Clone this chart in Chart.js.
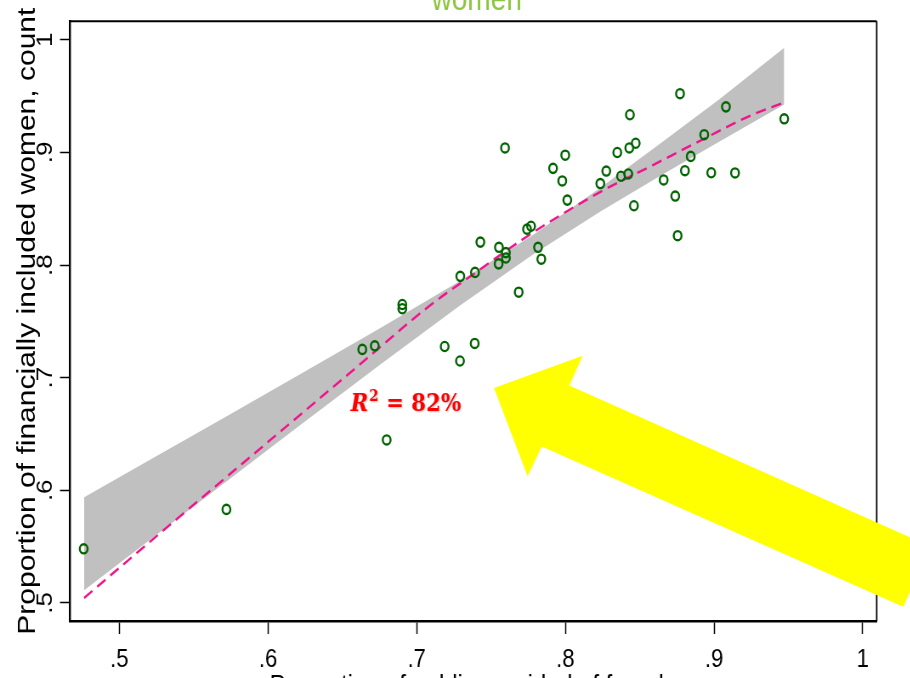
<!DOCTYPE html>
<html>
<head>
<meta charset="utf-8">
<script src="https://cdn.jsdelivr.net/npm/chart.js@4.4.1/dist/chart.umd.min.js"></script>
<style>
  html, body { margin: 0; padding: 0; background: #ffffff; overflow: hidden; }
  #wrap { position: absolute; left: 0; top: 0; width: 1071px; height: 678px;
          transform: scaleX(0.85); transform-origin: 0 0; }
  #c { display: block; width: 1071px; height: 678px; }
</style>
</head>
<body>
<div id="wrap"><canvas id="c" width="1071" height="678"></canvas></div>
<script>
// ---------------- DATA ----------------
const chartTitle = 'women';
const xAxisTitle = 'Proportion of public provided of female';
const yAxisTitle = 'Proportion of financially included women, count';
const r2Text = { symbol: 'R', power: '2', rest: ' = 82%' };

const xTickValues = [0.5, 0.6, 0.7, 0.8, 0.9, 1.0];
const xTickLabels = ['.5', '.6', '.7', '.8', '.9', '1'];
const yTickValues = [0.5, 0.6, 0.7, 0.8, 0.9, 1.0];
const yTickLabels = ['.5', '.6', '.7', '.8', '.9', '1'];

// observed points (x, y)
const obsX = [0.476, 0.572, 0.6634, 0.6718, 0.6903, 0.6903, 0.6798, 0.7188, 0.7291, 0.739,
              0.7293, 0.7392, 0.7428, 0.7553, 0.760, 0.760, 0.7551, 0.7742, 0.7769, 0.7816,
              0.7838, 0.7686, 0.7594, 0.7999, 0.7917, 0.7979, 0.8013, 0.8275, 0.8235, 0.8349,
              0.843, 0.8473, 0.8434, 0.8374, 0.8423, 0.8461, 0.8661, 0.8739, 0.8755, 0.8771,
              0.8804, 0.8843, 0.8934, 0.8981, 0.908, 0.9141, 0.9472];
const obsY = [0.548, 0.583, 0.7251, 0.7283, 0.765, 0.7612, 0.6447, 0.7277, 0.7148, 0.7304,
              0.790, 0.7935, 0.8204, 0.8158, 0.8111, 0.8063, 0.8011, 0.8319, 0.8345, 0.8158,
              0.8052, 0.7759, 0.904, 0.8976, 0.8859, 0.8747, 0.8577, 0.8835, 0.8724, 0.900,
              0.904, 0.9082, 0.9335, 0.8789, 0.8809, 0.8527, 0.8756, 0.8613, 0.8261, 0.9522,
              0.8838, 0.8965, 0.9158, 0.882, 0.9405, 0.8818, 0.9299];

// smoothed fit (dashed curve)
const fitX = [0.4763, 0.5206, 0.5718, 0.6215, 0.6619, 0.7089, 0.7392, 0.7762, 0.8233, 0.8589, 0.8925, 0.9261, 0.9465];
const fitY = [0.5044, 0.5543, 0.6115, 0.6669, 0.7119, 0.7641, 0.7929, 0.8272, 0.8648, 0.8888, 0.9117, 0.9337, 0.944];

// confidence band
const ciX     = [0.4763, 0.5206, 0.5722, 0.6215, 0.6753, 0.7291, 0.7782, 0.8233, 0.8636, 0.904, 0.9472];
const ciUpper = [0.5939, 0.6272, 0.6658, 0.7031, 0.7439, 0.7858, 0.8268, 0.8684, 0.9077, 0.9477, 0.993];
const ciLower = [0.5112, 0.5561, 0.6080, 0.6577, 0.7114, 0.7642, 0.8095, 0.8473, 0.8790, 0.9099, 0.9426];

// axis ranges
const xRange = [0.4668, 1.0094];
const yRange = [0.4839, 1.0165];

// annotations (data coordinates)
const r2Anchor = [0.6556, 0.6705];
const arrowShape = [[0.752, 0.6908], [0.8116, 0.7195], [0.8026, 0.6931], [1.0459, 0.5499],
                    [1.0272, 0.4965], [0.7841, 0.6388], [0.7746, 0.6124]];

// ---------------- CHART ----------------
const SANS = '"Liberation Sans", Arial, sans-serif';
const SERIF = '"DejaVu Serif", "Liberation Serif", serif';
const toPts = (xs, ys) => xs.map((v, i) => ({ x: v, y: ys[i] }));
const labelFor = (vals, labels) => (v) => {
  const i = vals.findIndex(t => Math.abs(t - v) < 1e-6);
  return i >= 0 ? labels[i] : '';
};

const overlay = {
  id: 'overlay',
  afterDraw(chart) {
    const { ctx, chartArea: a, scales: { x, y } } = chart;
    ctx.save();
    // frame (top and right)
    ctx.strokeStyle = '#000';
    ctx.lineWidth = 2;
    ctx.beginPath();
    ctx.moveTo(a.left, a.top);
    ctx.lineTo(a.right, a.top);
    ctx.stroke();
    ctx.lineWidth = 1.8;
    ctx.beginPath();
    ctx.moveTo(a.right, a.top);
    ctx.lineTo(a.right, a.bottom);
    ctx.stroke();

    // title (cut off at top)
    ctx.fillStyle = '#8DC63F';
    ctx.font = '33px ' + SANS;
    ctx.textAlign = 'center';
    ctx.textBaseline = 'alphabetic';
    ctx.fillText(chartTitle, (a.left + a.right) / 2 + 4, 10);

    // R^2 label
    let px = x.getPixelForValue(r2Anchor[0]);
    const py = y.getPixelForValue(r2Anchor[1]);
    ctx.textAlign = 'left';
    ctx.fillStyle = '#FF0000';
    ctx.shadowColor = 'rgba(0,0,0,0.25)';
    ctx.shadowBlur = 2;
    ctx.shadowOffsetX = 1;
    ctx.shadowOffsetY = 1;
    ctx.font = 'italic bold 25px ' + SERIF;
    ctx.fillText(r2Text.symbol, px, py);
    px += ctx.measureText(r2Text.symbol).width + 1;
    ctx.font = 'bold 16px ' + SERIF;
    ctx.fillText(r2Text.power, px, py - 10);
    px += ctx.measureText(r2Text.power).width;
    ctx.font = 'bold 25px ' + SERIF;
    ctx.fillText(r2Text.rest, px, py);
    ctx.shadowColor = 'transparent';

    // arrow
    ctx.fillStyle = '#FFFF00';
    ctx.beginPath();
    arrowShape.forEach((p, i) => {
      const X = x.getPixelForValue(p[0]), Y = y.getPixelForValue(p[1]);
      if (i === 0) ctx.moveTo(X, Y); else ctx.lineTo(X, Y);
    });
    ctx.closePath();
    ctx.fill();
    ctx.restore();
  }
};

new Chart(document.getElementById('c'), {
  type: 'scatter',
  data: {
    datasets: [
      {
        label: 'observed',
        data: toPts(obsX, obsY),
        order: 0,
        pointStyle: 'circle',
        pointRadius: 4.6,
        borderWidth: 2.4,
        borderColor: '#006400',
        backgroundColor: 'rgba(0,0,0,0)',
        showLine: false
      },
      {
        label: 'fit',
        data: toPts(fitX, fitY),
        order: 1,
        showLine: true,
        borderColor: '#F0148C',
        borderWidth: 2.4,
        borderDash: [12, 7],
        pointRadius: 0,
        cubicInterpolationMode: 'monotone',
        fill: false
      },
      {
        label: 'ci upper',
        data: toPts(ciX, ciUpper),
        order: 2,
        showLine: true,
        borderWidth: 0,
        borderColor: 'rgba(0,0,0,0)',
        backgroundColor: '#C0C0C0',
        pointRadius: 0,
        tension: 0,
        fill: '+1'
      },
      {
        label: 'ci lower',
        data: toPts(ciX, ciLower),
        order: 3,
        showLine: true,
        borderWidth: 0,
        borderColor: 'rgba(0,0,0,0)',
        backgroundColor: '#C0C0C0',
        pointRadius: 0,
        tension: 0,
        fill: false
      }
    ]
  },
  options: {
    responsive: false,
    animation: false,
    devicePixelRatio: 1,
    events: [],
    layout: { padding: { left: 0, right: 39.6, top: 16, bottom: 0 } },
    plugins: {
      legend: { display: false },
      tooltip: { enabled: false },
      title: { display: false }
    },
    scales: {
      x: {
        type: 'linear',
        position: 'bottom',
        min: xRange[0],
        max: xRange[1],
        afterBuildTicks: (s) => { s.ticks = xTickValues.map(v => ({ value: v })); },
        afterFit: (s) => { s.height = 57; },
        ticks: {
          autoSkip: false,
          maxRotation: 0,
          minRotation: 0,
          padding: 10,
          color: '#000',
          font: { family: SANS, size: 26 },
          callback: labelFor(xTickValues, xTickLabels)
        },
        grid: {
          drawOnChartArea: false,
          drawTicks: true,
          tickLength: 13,
          tickWidth: 1.5,
          tickColor: '#000'
        },
        border: { display: true, color: '#000', width: 2.5 },
        title: {
          display: true,
          text: xAxisTitle,
          color: '#000',
          font: { family: SANS, size: 28 },
          padding: { top: 0, bottom: -24.9 }
        }
      },
      y: {
        type: 'linear',
        position: 'left',
        min: yRange[0],
        max: yRange[1],
        afterBuildTicks: (s) => { s.ticks = yTickValues.map(v => ({ value: v })); },
        afterFit: (s) => { s.width = 82.35; },
        ticks: {
          autoSkip: false,
          minRotation: 90,
          maxRotation: 90,
          crossAlign: 'center',
          padding: 5.7,
          color: '#000',
          font: { family: SANS, size: 26 },
          callback: labelFor(yTickValues, yTickLabels)
        },
        grid: {
          drawOnChartArea: false,
          drawTicks: true,
          tickLength: 11.8,
          tickWidth: 1.5,
          tickColor: '#000'
        },
        border: { display: true, color: '#000', width: 2.4 },
        title: {
          display: true,
          text: yAxisTitle,
          color: '#000',
          font: { family: SANS, size: 30 },
          padding: { top: 14.7, bottom: 0 }
        }
      }
    }
  },
  plugins: [overlay]
});
</script>
</body>
</html>
